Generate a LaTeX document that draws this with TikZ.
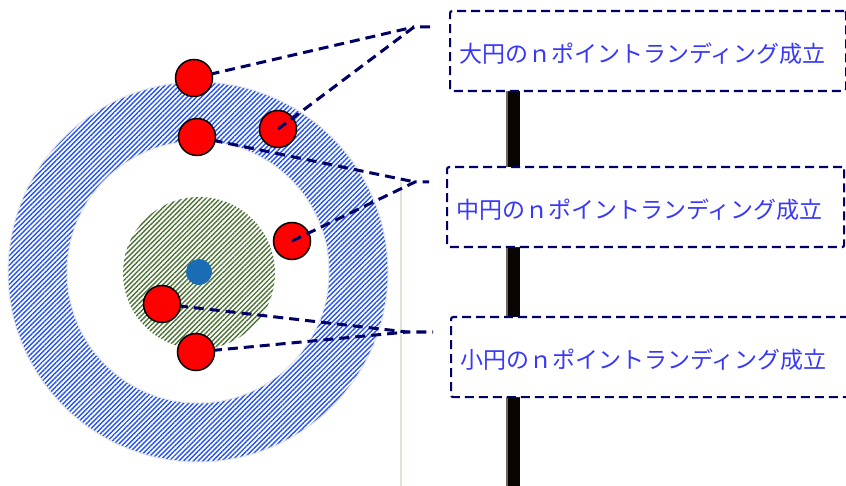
\documentclass[tikz,border=0pt]{standalone}
\usepackage{fontspec}
\newfontfamily\jpfont{Noto Sans CJK JP}
\usepackage{tikz}
\usetikzlibrary{patterns.meta}
\definecolor{ringB}{HTML}{2452F2}
\definecolor{ringG}{HTML}{4A7233}
\definecolor{hub}{HTML}{1A6DB5}
\definecolor{leadC}{HTML}{000066}
\definecolor{txtB}{HTML}{3838F8}
\definecolor{rail}{HTML}{080402}
\definecolor{railEdge}{HTML}{6E6660}
\definecolor{guide}{HTML}{DCE6D6}
\tikzset{
  dot/.style={circle,draw=black,line width=1.5pt,fill=red,minimum size=37pt,inner sep=0pt},
  lead/.style={draw=leadC,line width=3pt,dash pattern=on 10pt off 6pt},
  tag/.style={draw=leadC,line width=2.2pt,dash pattern=on 9pt off 5pt,fill=white,
    rounded corners=2pt,anchor=north west,minimum height=80pt,inner xsep=9pt,
    text height=26pt,text depth=3pt,align=left,text=txtB,font=\jpfont\fontsize{23}{27}\selectfont},
  hatch/.style={pattern={Lines[angle=45,distance=3.4pt,line width=1.4pt]},pattern color=#1},
}

\begin{document}
\begin{tikzpicture}[x=1pt,y=-1pt]
\useasboundingbox (0,0) rectangle (846,486);
% target rings
\coordinate (c) at (198,272);
\path[hatch=ringB,even odd rule] (c) circle (190) (c) circle (131);
\draw[gray!20,line width=1pt] (c) circle (190) (c) circle (131);
\path[hatch=ringG] (199,273) circle (76);
\fill[hub] (199,272) circle (13);
% guide and rail
\draw[guide,line width=2pt] (401,182) -- (401,486);
\fill[railEdge] (505.5,90) rectangle (508,486);
\fill[rail] (508,90) rectangle (520,486);
% labels
\node[tag,text width=378pt] (big) at (449,10) {大円のｎポイントランディング成立};
\node[tag,text width=379pt] (mid) at (446,166) {中円のｎポイントランディング成立};
\node[tag,text width=382pt] (small) at (450,316) {小円のｎポイントランディング成立};
\coordinate (jb) at (414,27);  \coordinate (jb') at (432,27);
\coordinate (jm) at (415,182); \coordinate (jm') at (429,182);
\coordinate (js) at (407,332); \coordinate (js') at (433,332);
% points under the leads
\node[dot] (p3) at (278,129) {};
\node[dot] (p4) at (292,241) {};
\draw[lead] (p3.center) -- (jb) -- (jb');
\draw[lead] (p4.center) -- (jm) -- (jm');
% points over the leads
\draw[lead] (194,78) -- (jb);
\draw[lead] (197,137) -- (jm);
\draw[lead] (162,304) -- (js) -- (js');
\draw[lead] (196,352) -- (js);
\node[dot] (p1) at (194,78) {};
\node[dot] (p2) at (197,137) {};
\node[dot] (p5) at (162,304) {};
\node[dot] (p6) at (196,352) {};
\end{tikzpicture}
\end{document}
